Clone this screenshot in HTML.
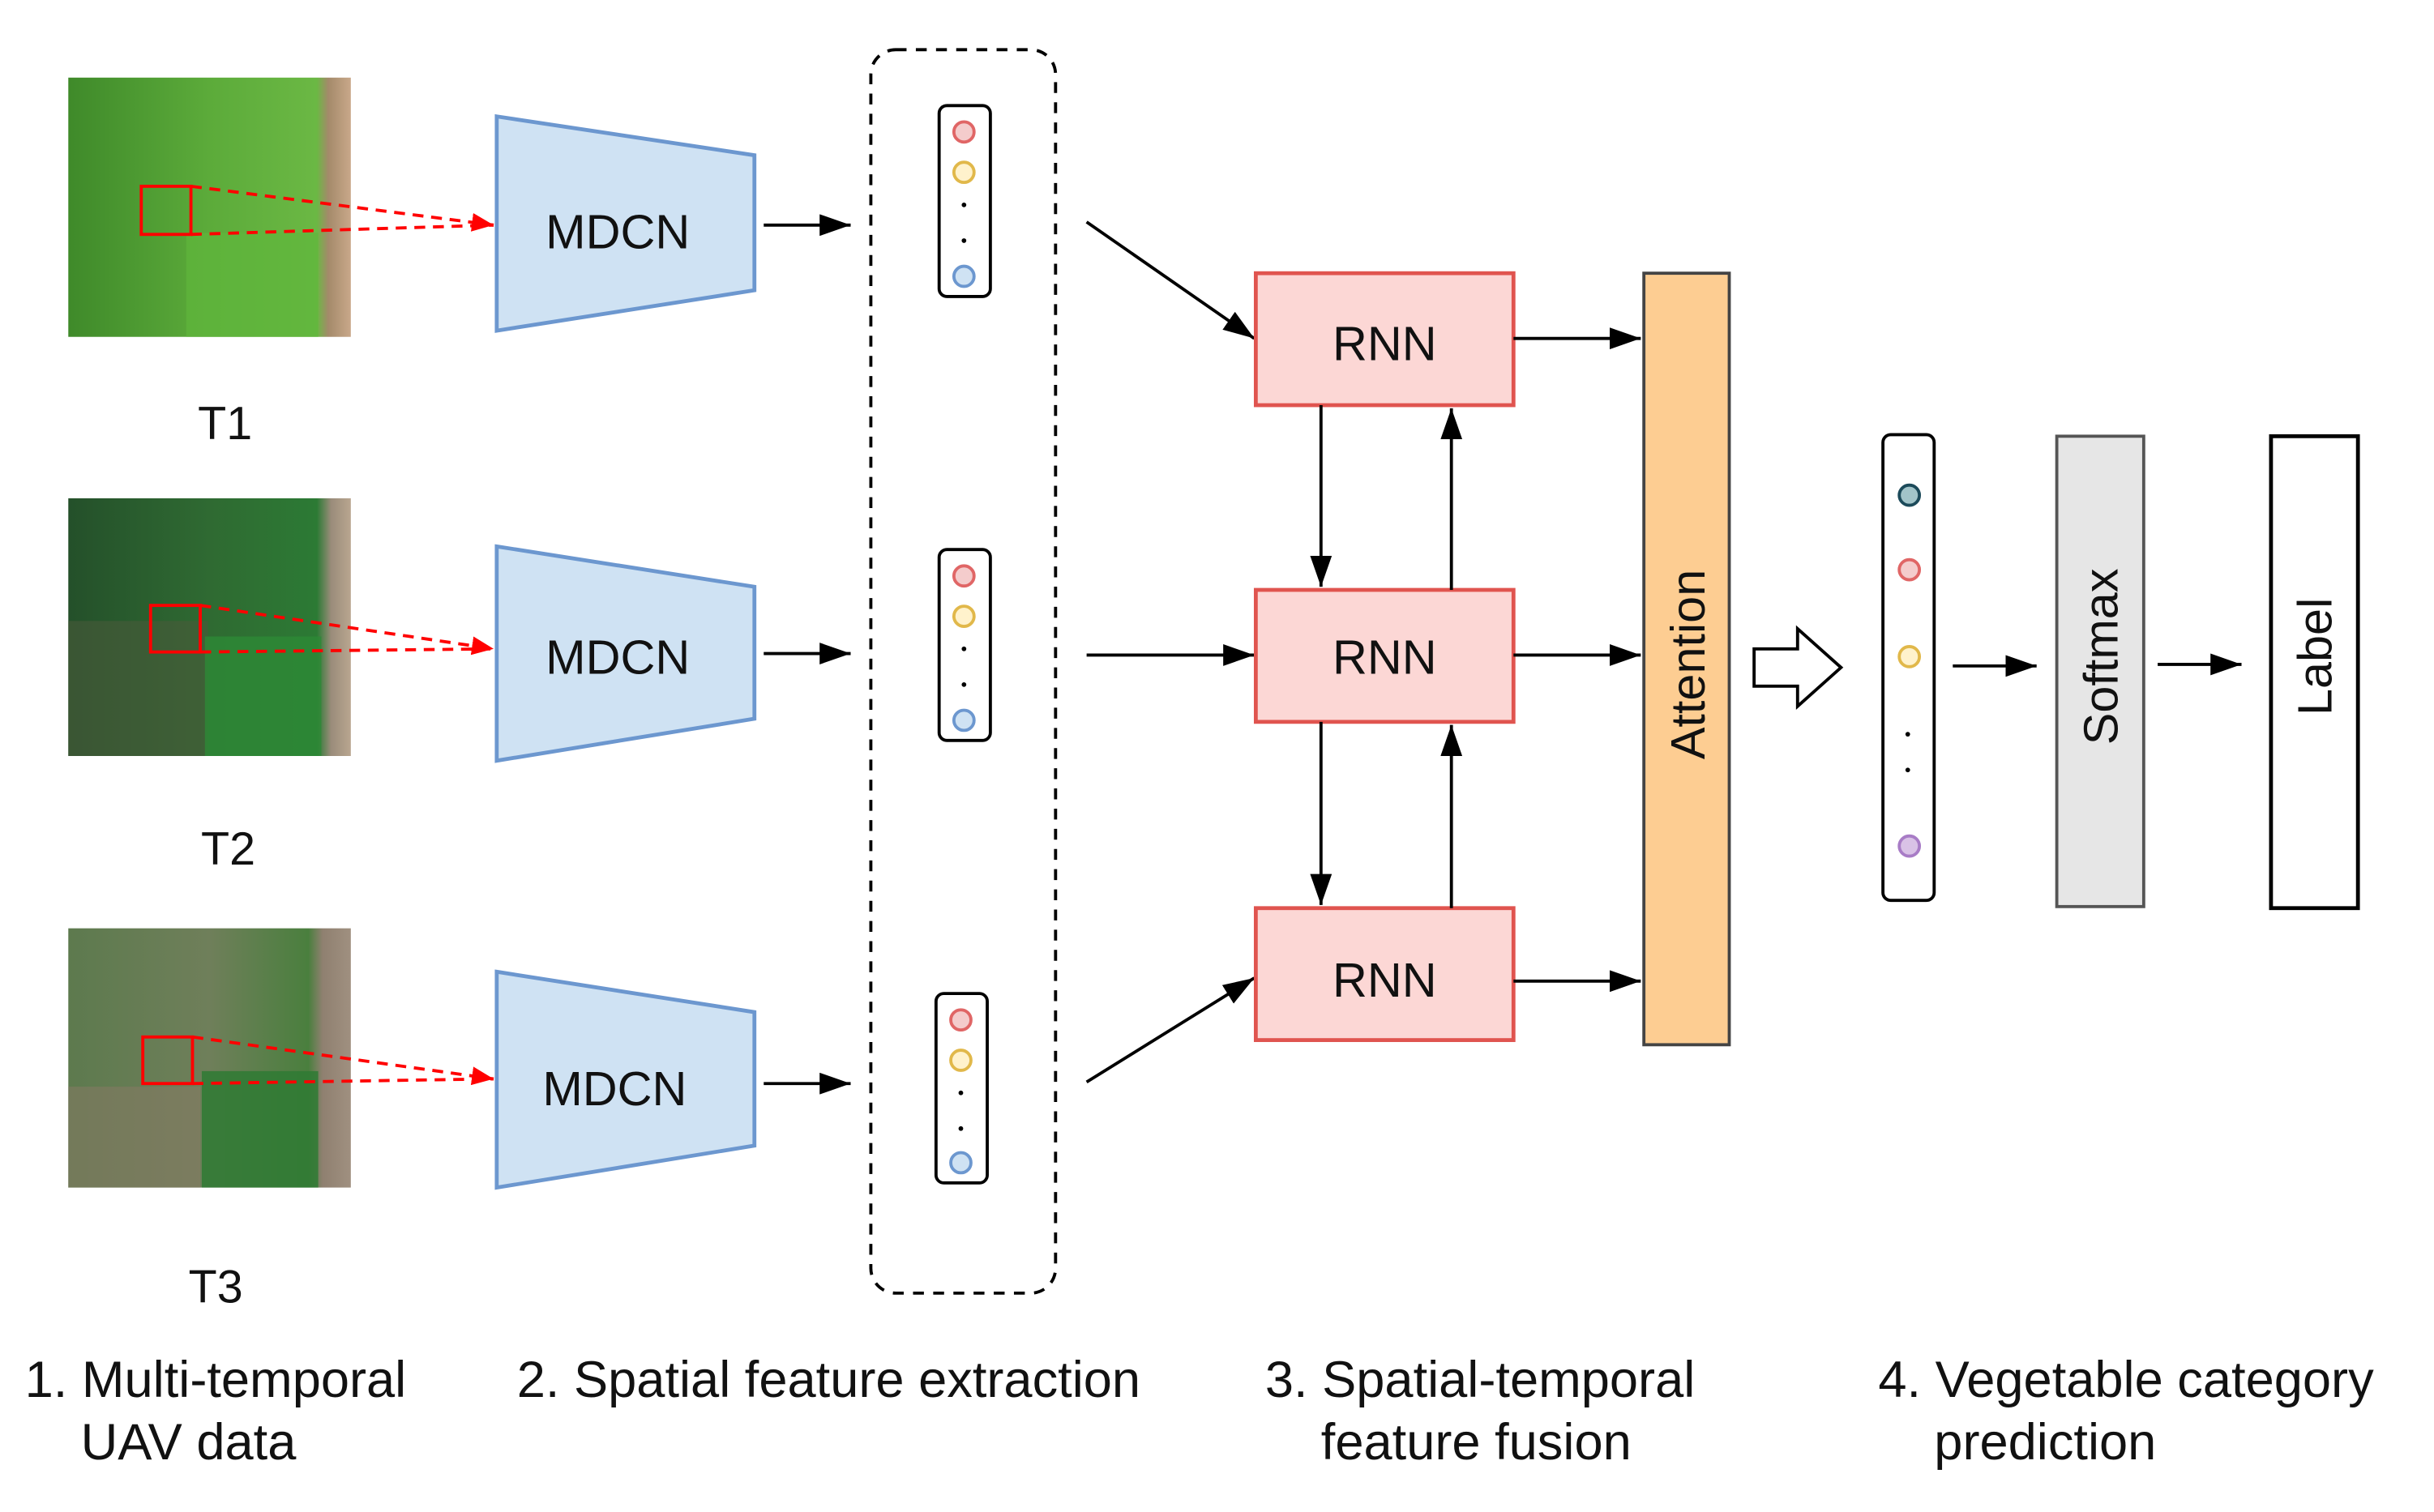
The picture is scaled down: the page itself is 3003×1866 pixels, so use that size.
<!DOCTYPE html>
<html><head><meta charset="utf-8"><style>
html,body{margin:0;padding:0;background:#fff;}
svg{display:block;}
text{font-family:"Liberation Sans",Arial,sans-serif;fill:#111;}
</style></head><body>
<svg width="3003" height="1866" viewBox="0 0 1568 974" preserveAspectRatio="none" xmlns="http://www.w3.org/2000/svg">
<defs>
<marker id="a2" viewBox="0 0 10 10" refX="10" refY="5" markerWidth="20" markerHeight="14" orient="auto" markerUnits="userSpaceOnUse" preserveAspectRatio="none"><path d="M0,0 L10,5 L0,10 z" fill="#000"/></marker>
<marker id="ar" viewBox="0 0 10 10" refX="10" refY="5" markerWidth="14" markerHeight="12" orient="auto" markerUnits="userSpaceOnUse" preserveAspectRatio="none"><path d="M0,0 L10,5 L0,10 z" fill="#f00"/></marker>
<linearGradient id="g1" x1="0" x2="1"><stop offset="0" stop-color="#3f8a2a"/><stop offset="0.5" stop-color="#5cab3a"/><stop offset="0.88" stop-color="#6bb844"/><stop offset="0.92" stop-color="#a48a6a"/><stop offset="1" stop-color="#c9a88a"/></linearGradient>
<linearGradient id="g2" x1="0" x2="1"><stop offset="0" stop-color="#24502a"/><stop offset="0.5" stop-color="#2f6a32"/><stop offset="0.88" stop-color="#2c7a34"/><stop offset="0.93" stop-color="#9a8c7a"/><stop offset="1" stop-color="#b9a690"/></linearGradient>
<linearGradient id="g3" x1="0" x2="1"><stop offset="0" stop-color="#5d7a4e"/><stop offset="0.5" stop-color="#6f7f5a"/><stop offset="0.85" stop-color="#4a7f3e"/><stop offset="0.9" stop-color="#8f8070"/><stop offset="1" stop-color="#a09080"/></linearGradient>
</defs>

<rect x="44" y="50" width="182" height="167" fill="url(#g1)"/>
<rect x="120" y="150" width="85" height="67" fill="#5fb63c" opacity="0.7"/>
<rect x="44" y="321" width="182" height="166" fill="url(#g2)"/>
<rect x="44" y="400" width="90" height="87" fill="#4a5a3a" opacity="0.6"/>
<rect x="132" y="410" width="75" height="77" fill="#2d8a36" opacity="0.8"/>
<rect x="44" y="598" width="182" height="167" fill="url(#g3)"/>
<rect x="130" y="690" width="75" height="75" fill="#2f7a34" opacity="0.85"/>
<rect x="44" y="700" width="85" height="65" fill="#8a7a66" opacity="0.5"/>

<rect x="91" y="120" width="32" height="31" fill="none" stroke="#f00" stroke-width="2"/>
<rect x="97" y="390" width="32" height="30" fill="none" stroke="#f00" stroke-width="2"/>
<rect x="92" y="668" width="32" height="30" fill="none" stroke="#f00" stroke-width="2"/>
<g stroke="#f00" stroke-width="2" stroke-dasharray="7,5" fill="none">
<line x1="123" y1="120" x2="318" y2="145" marker-end="url(#ar)"/><line x1="123" y1="151" x2="318" y2="145"/>
<line x1="129" y1="390" x2="318" y2="418" marker-end="url(#ar)"/><line x1="129" y1="420" x2="318" y2="418"/>
<line x1="124" y1="668" x2="318" y2="695" marker-end="url(#ar)"/><line x1="124" y1="698" x2="318" y2="695"/>
</g>
<text x="145" y="283" font-size="30" text-anchor="middle">T1</text>
<text x="147" y="557" font-size="30" text-anchor="middle">T2</text>
<text x="139" y="839" font-size="30" text-anchor="middle">T3</text>

<g fill="#cfe2f3" stroke="#6c97cf" stroke-width="2.5">
<polygon points="320,75 486,100 486,187 320,213"/>
<polygon points="320,352 486,378 486,463 320,490"/>
<polygon points="320,626 486,652 486,738 320,765"/>
</g>
<text x="398" y="160" font-size="31" text-anchor="middle">MDCN</text>
<text x="398" y="434" font-size="31" text-anchor="middle">MDCN</text>
<text x="396" y="712" font-size="31" text-anchor="middle">MDCN</text>

<g stroke="#000" stroke-width="2" fill="none">
<line x1="492" y1="145" x2="548" y2="145" marker-end="url(#a2)"/>
<line x1="492" y1="421" x2="548" y2="421" marker-end="url(#a2)"/>
<line x1="492" y1="698" x2="548" y2="698" marker-end="url(#a2)"/>
<rect x="561" y="32" width="119" height="801" rx="16" stroke-dasharray="7,6"/>
</g>

<g stroke-width="2">
<rect x="605" y="68" width="33" height="123" rx="5" fill="#fff" stroke="#000"/>
<circle cx="621" cy="85" r="6.5" fill="#f4cccc" stroke="#e06666"/><circle cx="621" cy="111" r="6.5" fill="#fff2cc" stroke="#e1b84a"/>
<circle cx="621" cy="132" r="1.5" fill="#000"/><circle cx="621" cy="155" r="1.5" fill="#000"/>
<circle cx="621" cy="178" r="6.5" fill="#cfe2f3" stroke="#6c97cf"/>
<rect x="605" y="354" width="33" height="123" rx="5" fill="#fff" stroke="#000"/>
<circle cx="621" cy="371" r="6.5" fill="#f4cccc" stroke="#e06666"/><circle cx="621" cy="397" r="6.5" fill="#fff2cc" stroke="#e1b84a"/>
<circle cx="621" cy="418" r="1.5" fill="#000"/><circle cx="621" cy="441" r="1.5" fill="#000"/>
<circle cx="621" cy="464" r="6.5" fill="#cfe2f3" stroke="#6c97cf"/>
<rect x="603" y="640" width="33" height="122" rx="5" fill="#fff" stroke="#000"/>
<circle cx="619" cy="657" r="6.5" fill="#f4cccc" stroke="#e06666"/><circle cx="619" cy="683" r="6.5" fill="#fff2cc" stroke="#e1b84a"/>
<circle cx="619" cy="704" r="1.5" fill="#000"/><circle cx="619" cy="727" r="1.5" fill="#000"/>
<circle cx="619" cy="749" r="6.5" fill="#cfe2f3" stroke="#6c97cf"/>
</g>

<g stroke="#000" stroke-width="2" fill="none">
<line x1="700" y1="143" x2="808" y2="218" marker-end="url(#a2)"/>
<line x1="700" y1="422" x2="808" y2="422" marker-end="url(#a2)"/>
<line x1="700" y1="697" x2="808" y2="630" marker-end="url(#a2)"/>
</g>

<g fill="#fcd7d5" stroke="#e0544f" stroke-width="2.5">
<rect x="809" y="176" width="166" height="85"/>
<rect x="809" y="380" width="166" height="85"/>
<rect x="809" y="585" width="166" height="85"/>
</g>
<text x="892" y="232" font-size="31" text-anchor="middle">RNN</text>
<text x="892" y="434" font-size="31" text-anchor="middle">RNN</text>
<text x="892" y="642" font-size="31" text-anchor="middle">RNN</text>

<g stroke="#000" stroke-width="2" fill="none">
<line x1="851" y1="261" x2="851" y2="378" marker-end="url(#a2)"/>
<line x1="935" y1="380" x2="935" y2="263" marker-end="url(#a2)"/>
<line x1="851" y1="465" x2="851" y2="583" marker-end="url(#a2)"/>
<line x1="935" y1="585" x2="935" y2="467" marker-end="url(#a2)"/>
<line x1="975" y1="218" x2="1057" y2="218" marker-end="url(#a2)"/>
<line x1="975" y1="422" x2="1057" y2="422" marker-end="url(#a2)"/>
<line x1="975" y1="632" x2="1057" y2="632" marker-end="url(#a2)"/>
</g>

<rect x="1059" y="176" width="55" height="497" fill="#fdcd92" stroke="#444" stroke-width="2"/>
<text transform="translate(1098,428) rotate(-90)" font-size="31" text-anchor="middle">Attention</text>

<path d="M1130,418 L1158,418 L1158,405 L1186,430 L1158,455 L1158,442 L1130,442 z" fill="#fff" stroke="#000" stroke-width="2"/>

<g stroke-width="2">
<rect x="1213" y="280" width="33" height="300" rx="5" fill="#fff" stroke="#000"/>
<circle cx="1230" cy="319" r="6.5" fill="#a2c4c9" stroke="#1c4a5a"/>
<circle cx="1230" cy="367" r="6.5" fill="#f4cccc" stroke="#e06666"/>
<circle cx="1230" cy="423" r="6.5" fill="#fff2cc" stroke="#e1b84a"/>
<circle cx="1229" cy="473" r="1.5" fill="#000"/><circle cx="1229" cy="496" r="1.5" fill="#000"/>
<circle cx="1230" cy="545" r="6.5" fill="#d9c2e6" stroke="#a87cc6"/>
</g>
<g stroke="#000" stroke-width="2" fill="none">
<line x1="1258" y1="429" x2="1312" y2="429" marker-end="url(#a2)"/>
<line x1="1390" y1="428" x2="1444" y2="428" marker-end="url(#a2)"/>
</g>
<rect x="1325" y="281" width="56" height="303" fill="#e6e6e6" stroke="#555" stroke-width="2"/>
<text transform="translate(1364,423) rotate(-90)" font-size="31" text-anchor="middle">Softmax</text>
<rect x="1463" y="281" width="56" height="304" fill="#fff" stroke="#000" stroke-width="2.5"/>
<text transform="translate(1502,423) rotate(-90)" font-size="31" text-anchor="middle">Label</text>

<g font-size="33">
<text x="16" y="900">1. Multi-temporal</text>
<text x="52" y="940">UAV data</text>
<text x="333" y="900">2. Spatial feature extraction</text>
<text x="815" y="900">3. Spatial-temporal</text>
<text x="851" y="940">feature fusion</text>
<text x="1210" y="900">4. Vegetable category</text>
<text x="1246" y="940">prediction</text>
</g>
</svg>
</body></html>
